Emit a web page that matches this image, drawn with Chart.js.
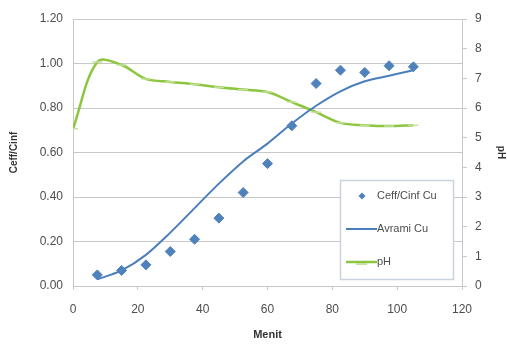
<!DOCTYPE html>
<html>
<head>
<meta charset="utf-8">
<script src="https://cdn.jsdelivr.net/npm/chart.js@4"></script>
<style>
html,body{margin:0;padding:0;background:#fff;}
#wrap{width:507px;height:345px;}
</style>
</head>
<body>
<div id="wrap"><canvas id="c" width="507" height="345"></canvas></div>
<script>
// Data
const minutes = [7.5, 15, 22.5, 30, 37.5, 45, 52.5, 60, 67.5, 75, 82.5, 90, 97.5, 105];
const ceffCinf = [0.05, 0.07, 0.095, 0.155, 0.21, 0.305, 0.42, 0.55, 0.72, 0.91, 0.97, 0.96, 0.99, 0.985];
const avrami = [0.03, 0.07, 0.14, 0.24, 0.35, 0.46, 0.56, 0.64, 0.73, 0.81, 0.875, 0.92, 0.945, 0.97];
const phMinutes = [0, 7.5, 15, 22.5, 30, 37.5, 45, 52.5, 60, 67.5, 75, 82.5, 90, 97.5, 105];
const phValues = [5.3, 7.55, 7.45, 6.98, 6.88, 6.8, 6.7, 6.62, 6.54, 6.2, 5.86, 5.5, 5.42, 5.39, 5.42];
const xTicks = [0, 20, 40, 60, 80, 100, 120];
const seriesLabels = ['Ceff/Cinf Cu', 'Avrami Cu', 'pH'];

const BLUE = '#4F81BD';
const LINEBLUE = '#4A7EBB';
const GREEN = '#8CC63F';
const LIGHTGREEN = '#C4E29C';
const GRID = '#C8C8C8';
const TXT = '#4D4D4D';
const FONT = '"Liberation Sans", Arial, sans-serif';

const pts = (xs, ys) => xs.map((x, i) => ({x: x, y: ys[i]}));

const legendPlugin = {
  id: 'boxLegend',
  afterDraw(chart) {
    const ctx = chart.ctx;
    const bx = 340, by = 180, bw = 113, bh = 99;
    ctx.save();
    ctx.fillStyle = '#fff';
    ctx.fillRect(bx, by, bw, bh);
    ctx.strokeStyle = '#C9D3E0';
    ctx.lineWidth = 1.5;
    ctx.strokeRect(bx + 0.5, by + 0.5, bw, bh);
    ctx.font = '11px ' + FONT;
    ctx.fillStyle = TXT;
    ctx.textBaseline = 'middle';
    const tx = 377;
    const rows = [196, 229, 262];
    ctx.fillStyle = BLUE;
    ctx.beginPath();
    const dx = 362, dy = rows[0], r = 3.5;
    ctx.moveTo(dx, dy - r); ctx.lineTo(dx + r, dy); ctx.lineTo(dx, dy + r); ctx.lineTo(dx - r, dy);
    ctx.closePath(); ctx.fill();
    ctx.strokeStyle = LINEBLUE; ctx.lineWidth = 2;
    ctx.beginPath(); ctx.moveTo(346, rows[1]); ctx.lineTo(377, rows[1]); ctx.stroke();
    ctx.strokeStyle = GREEN; ctx.lineWidth = 2.5;
    ctx.beginPath(); ctx.moveTo(346, rows[2]); ctx.lineTo(377, rows[2]); ctx.stroke();
    ctx.strokeStyle = LIGHTGREEN; ctx.lineWidth = 2;
    ctx.beginPath(); ctx.moveTo(356, rows[2] + 2); ctx.lineTo(367, rows[2] + 2); ctx.stroke();
    ctx.fillStyle = TXT;
    seriesLabels.forEach((l, i) => ctx.fillText(l, tx, rows[i]));
    ctx.restore();
  }
};

new Chart(document.getElementById('c'), {
  type: 'line',
  data: {
    datasets: [
      {
        label: seriesLabels[0],
        data: pts(minutes, ceffCinf),
        showLine: false,
        pointStyle: 'rectRot',
        pointRadius: 5,
        pointBackgroundColor: BLUE,
        pointBorderColor: BLUE,
        yAxisID: 'y',
        order: 1
      },
      {
        label: seriesLabels[1],
        data: pts(minutes, avrami),
        borderColor: LINEBLUE,
        borderWidth: 2,
        pointRadius: 0,
        tension: 0.4,
        cubicInterpolationMode: 'monotone',
        yAxisID: 'y',
        order: 2
      },
      {
        label: seriesLabels[2],
        data: pts(phMinutes, phValues),
        borderColor: GREEN,
        borderWidth: 2.5,
        pointStyle: 'line',
        pointRadius: 5,
        pointBorderColor: LIGHTGREEN,
        pointBorderWidth: 1.5,
        tension: 0.35,
        yAxisID: 'y2',
        order: 3
      }
    ]
  },
  options: {
    responsive: false,
    animation: false,
    layout: {padding: {top: 19, left: 0, right: 0, bottom: 0}},
    plugins: {legend: {display: false}, tooltip: {enabled: false}},
    scales: {
      x: {
        type: 'linear', min: 0, max: 120,
        afterBuildTicks: (s) => { s.ticks = xTicks.map(v => ({value: v})); },
        grid: {display: true, drawOnChartArea: false, drawTicks: true, tickLength: 4, color: GRID},
        border: {color: GRID, width: 1},
        ticks: {color: TXT, font: {family: FONT, size: 12}, padding: 12, maxRotation: 0},
        title: {display: true, text: 'Menit', color: '#333', font: {family: FONT, size: 11, weight: 'bold'}, padding: {top: 10, bottom: 3}},
        afterFit: (s) => { s.height = 59; }
      },
      y: {
        position: 'left', min: 0, max: 1.2,
        ticks: {stepSize: 0.2, color: TXT, font: {family: FONT, size: 12}, padding: 10, callback: v => Number(v).toFixed(2)},
        grid: {color: GRID, drawTicks: false},
        border: {color: GRID},
        title: {display: true, text: 'Ceff/Cinf', color: '#333', font: {family: FONT, size: 10, weight: 'bold'}, padding: {top: 8, bottom: 0}},
        afterFit: (s) => { s.width = 73; }
      },
      y2: {
        position: 'right', min: 0, max: 9,
        ticks: {stepSize: 1, color: TXT, font: {family: FONT, size: 12}, padding: 8},
        grid: {drawOnChartArea: false, color: GRID, tickLength: 5},
        border: {color: GRID},
        title: {display: true, text: 'pH', color: '#333', font: {family: FONT, size: 10, weight: 'bold'}, padding: {top: 0, bottom: 0}},
        afterFit: (s) => { s.width = 45; }
      }
    }
  },
  plugins: [legendPlugin]
});
</script>
</body>
</html>
